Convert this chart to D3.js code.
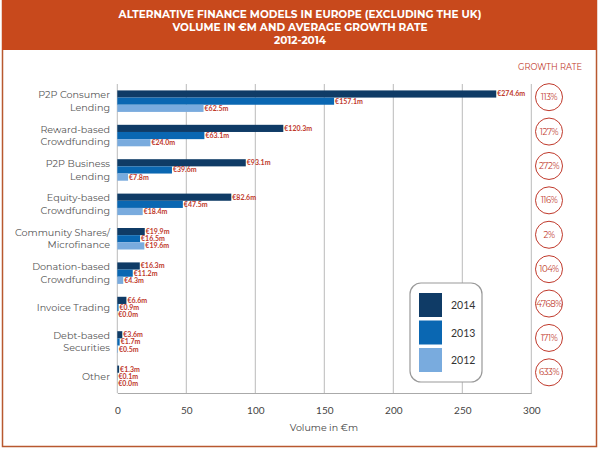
<!DOCTYPE html>
<html>
<head>
<meta charset="utf-8">
<script src="https://cdn.jsdelivr.net/npm/d3@7"></script>
<style>
  body { margin: 0; background: #fff; }
  svg { display: block; font-family: "Montserrat", Lato, "Open Sans", sans-serif; }
</style>
</head>
<body>
<script>
// 数据
var categories = [
  ["P2P Consumer", "Lending"],
  ["Reward-based", "Crowdfunding"],
  ["P2P Business", "Lending"],
  ["Equity-based", "Crowdfunding"],
  ["Community Shares/", "Microfinance"],
  ["Donation-based", "Crowdfunding"],
  ["Invoice Trading"],
  ["Debt-based", "Securities"],
  ["Other"]
];
var years = ["2014", "2013", "2012"];
var values2014 = [274.6, 120.3, 93.1, 82.6, 19.9, 16.3, 6.6, 3.6, 1.3];
var values2013 = [157.1, 63.1, 39.6, 47.5, 16.5, 11.2, 0.9, 1.7, 0.1];
var values2012 = [62.5, 24.0, 7.8, 18.4, 19.6, 4.3, 0.0, 0.5, 0.0];
var growthRates = ["113%", "127%", "272%", "116%", "2%", "104%", "4768%", "171%", "633%"];
var xTicks = [0, 50, 100, 150, 200, 250, 300];
var titleLines = [
  "ALTERNATIVE FINANCE MODELS IN EUROPE (EXCLUDING THE UK)",
  "VOLUME IN €M AND AVERAGE GROWTH RATE",
  "2012-2014"
];

var colors = { "2014": "#0f3b66", "2013": "#0a67b2", "2012": "#79abde" };
var accent = "#c8491c";
var labelRed = "#c0392b";

var width = 600, height = 450;
var svg = d3.select("body").append("svg")
  .attr("width", width)
  .attr("height", height);

// 外框和标题栏
svg.append("rect")
  .attr("x", 2.5).attr("y", 0.5)
  .attr("width", 594).attr("height", 446)
  .attr("fill", "#fff")
  .attr("stroke", "#b8582f")
  .attr("stroke-width", 1.5);

svg.append("rect")
  .attr("x", 2).attr("y", 0)
  .attr("width", 595).attr("height", 50)
  .attr("fill", accent);

svg.selectAll(".title")
  .data(titleLines)
  .enter()
  .append("text")
  .attr("class", "title")
  .attr("x", 300)
  .attr("y", function (d, i) { return 18 + i * 13; })
  .attr("text-anchor", "middle")
  .attr("fill", "#fff")
  .attr("font-size", "10.5px")
  .attr("font-weight", "bold")
  .text(function (d) { return d; });

// 比例尺
var x = d3.scaleLinear()
  .domain([0, 300])
  .range([117.3, 531.3]);

var y = d3.scaleBand()
  .domain(d3.range(categories.length))
  .range([84.5, 393])
  .paddingInner(0.375)
  .paddingOuter(0.172);

var inner = d3.scaleBand()
  .domain(years)
  .range([0, y.bandwidth()]);

// 网格线
svg.append("g")
  .selectAll("line")
  .data(xTicks)
  .enter()
  .append("line")
  .attr("x1", function (d) { return x(d); })
  .attr("x2", function (d) { return x(d); })
  .attr("y1", 84)
  .attr("y2", 393)
  .attr("stroke", "#bbb")
  .attr("stroke-width", 1);

// x轴
var xAxis = d3.axisBottom(x)
  .tickValues(xTicks)
  .tickSize(0)
  .tickPadding(14);

var axisG = svg.append("g")
  .attr("transform", "translate(0,393)")
  .call(xAxis);
axisG.select(".domain").attr("stroke", "#aaa");
axisG.selectAll("text")
  .attr("fill", "#444")
  .attr("font-size", "10px")
  .attr("font-family", "Lato, 'Open Sans', sans-serif");

svg.append("text")
  .attr("x", 324)
  .attr("y", 431)
  .attr("text-anchor", "middle")
  .attr("fill", "#444")
  .attr("font-size", "9.5px")
  .text("Volume in €m");

// 分类标签
var catG = svg.append("g")
  .selectAll("text")
  .data(categories)
  .enter()
  .append("text")
  .attr("text-anchor", "end")
  .attr("fill", "#555")
  .attr("font-size", "9.6px");

catG.each(function (d, i) {
  var cy = y(i) + y.bandwidth() / 2;
  var el = d3.select(this);
  d.forEach(function (line, j) {
    el.append("tspan")
      .attr("x", 110)
      .attr("y", cy + (j - (d.length - 1) / 2) * 12.5 + 3.3)
      .text(line);
  });
});

// 柱子
var rows = categories.map(function (c, i) {
  return { i: i, v: { "2014": values2014[i], "2013": values2013[i], "2012": values2012[i] } };
});

var groups = svg.append("g")
  .selectAll("g")
  .data(rows)
  .enter()
  .append("g")
  .attr("transform", function (d) { return "translate(0," + y(d.i) + ")"; });

groups.selectAll("rect")
  .data(function (d) { return years.map(function (yr) { return { yr: yr, v: d.v[yr] }; }); })
  .enter()
  .append("rect")
  .attr("x", x(0))
  .attr("y", function (d) { return inner(d.yr); })
  .attr("width", function (d) { return x(d.v) - x(0); })
  .attr("height", inner.bandwidth())
  .attr("fill", function (d) { return colors[d.yr]; });

groups.selectAll("text")
  .data(function (d) { return years.map(function (yr) { return { yr: yr, v: d.v[yr] }; }); })
  .enter()
  .append("text")
  .attr("x", function (d) { return x(d.v) + 1; })
  .attr("y", function (d) { return inner(d.yr) + inner.bandwidth() / 2 + 2.4; })
  .attr("fill", labelRed)
  .attr("font-size", "7px")
  .attr("font-weight", "bold")
  .attr("font-family", "Lato, 'Open Sans', sans-serif")
  .text(function (d) { return "€" + d.v.toFixed(1) + "m"; });

// 增长率
svg.append("text")
  .attr("x", 550)
  .attr("y", 70)
  .attr("text-anchor", "middle")
  .attr("fill", labelRed)
  .attr("font-size", "8.3px")
  .text("GROWTH RATE");

var rateG = svg.append("g")
  .selectAll("g")
  .data(growthRates)
  .enter()
  .append("g")
  .attr("transform", function (d, i) {
    return "translate(549," + (y(i) + y.bandwidth() / 2 - 4) + ")";
  });

rateG.append("circle")
  .attr("r", 13.5)
  .attr("fill", "#fff")
  .attr("stroke", labelRed)
  .attr("stroke-width", 1);

rateG.append("text")
  .attr("y", 3)
  .attr("text-anchor", "middle")
  .attr("fill", labelRed)
  .attr("font-size", "8.5px")
  .attr("letter-spacing", "-0.4px")
  .text(function (d) { return d; });

// 图例
var legend = svg.append("g");
legend.append("rect")
  .attr("x", 410).attr("y", 283)
  .attr("width", 72).attr("height", 99)
  .attr("rx", 11).attr("ry", 11)
  .attr("fill", "#fff")
  .attr("stroke", "#999")
  .attr("stroke-width", 1.2);

var legItems = legend.selectAll(".leg")
  .data(years)
  .enter()
  .append("g")
  .attr("class", "leg")
  .attr("transform", function (d, i) { return "translate(419," + (293 + i * 27.5) + ")"; });

legItems.append("rect")
  .attr("width", 23).attr("height", 24)
  .attr("fill", function (d) { return colors[d]; });

legItems.append("text")
  .attr("x", 32).attr("y", 16)
  .attr("fill", "#333")
  .attr("font-size", "10.5px")
  .attr("font-family", "Lato, 'Open Sans', sans-serif")
  .text(function (d) { return d; });
</script>
</body>
</html>
